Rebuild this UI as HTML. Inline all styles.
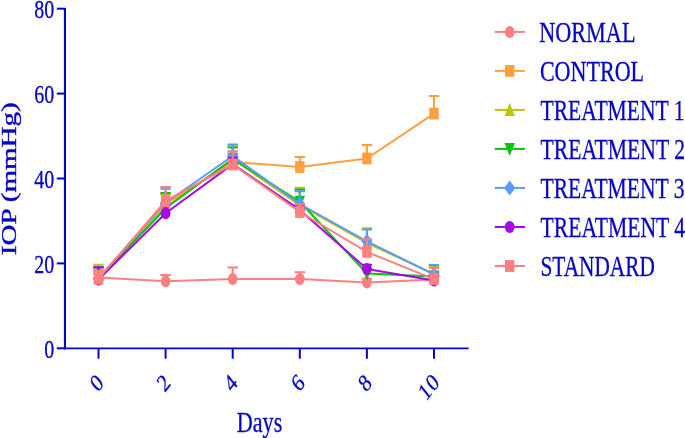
<!DOCTYPE html><html><head><meta charset="utf-8"><style>html,body{margin:0;padding:0;background:#fff}svg text{white-space:pre}</style></head><body><svg width="685" height="438" viewBox="0 0 685 438" style="display:block;will-change:transform">
<rect width="685" height="438" fill="#fff"/>
<g stroke="#ff8080" stroke-width="2" fill="none"><path d="M98.5,277.4V273.2M93.3,273.2H103.7"/><path d="M165.6,281.2V274.9M160.4,274.9H170.8"/><path d="M232.7,279.1V267.4M227.5,267.4H237.9"/><path d="M299.8,279.1V272.3M294.6,272.3H305.0"/><path d="M366.9,282.5V278.7M361.7,278.7H372.1"/><path d="M434.0,279.5V275.3M428.8,275.3H439.2"/><polyline points="98.5,277.4 165.6,281.2 232.7,279.1 299.8,279.1 366.9,282.5 434.0,279.5" stroke-linejoin="round"/></g><ellipse cx="98.5" cy="277.4" rx="4.85" ry="6.0" fill="#ff8080"/><ellipse cx="165.6" cy="281.2" rx="4.85" ry="6.0" fill="#ff8080"/><ellipse cx="232.7" cy="279.1" rx="4.85" ry="6.0" fill="#ff8080"/><ellipse cx="299.8" cy="279.1" rx="4.85" ry="6.0" fill="#ff8080"/><ellipse cx="366.9" cy="282.5" rx="4.85" ry="6.0" fill="#ff8080"/><ellipse cx="434.0" cy="279.5" rx="4.85" ry="6.0" fill="#ff8080"/>
<g stroke="#ffa040" stroke-width="2" fill="none"><path d="M98.5,277.8V269.3M93.3,269.3H103.7"/><path d="M165.6,204.0V193.8M160.4,193.8H170.8"/><path d="M232.7,161.9V153.5M227.5,153.5H237.9"/><path d="M299.8,167.0V156.9M294.6,156.9H305.0"/><path d="M366.9,158.5V145.0M361.7,145.0H372.1"/><path d="M434.0,113.6V96.1M428.8,96.1H439.2"/><polyline points="98.5,277.8 165.6,204.0 232.7,161.9 299.8,167.0 366.9,158.5 434.0,113.6" stroke-linejoin="round"/></g><rect x="93.8" y="271.9" width="9.4" height="11.8" fill="#ffa040"/><rect x="160.9" y="198.1" width="9.4" height="11.8" fill="#ffa040"/><rect x="228.0" y="156.0" width="9.4" height="11.8" fill="#ffa040"/><rect x="295.1" y="161.1" width="9.4" height="11.8" fill="#ffa040"/><rect x="362.2" y="152.6" width="9.4" height="11.8" fill="#ffa040"/><rect x="429.3" y="107.7" width="9.4" height="11.8" fill="#ffa040"/>
<g stroke="#bec40c" stroke-width="2" fill="none"><path d="M98.5,277.4V264.7M93.3,264.7H103.7"/><path d="M165.6,207.4V194.2M160.4,194.2H170.8"/><path d="M232.7,159.0V145.8M227.5,145.8H237.9"/><path d="M299.8,205.2V187.8M294.6,187.8H305.0"/><path d="M366.9,243.0V228.2M361.7,228.2H372.1"/><path d="M434.0,274.0V266.4M428.8,266.4H439.2"/><polyline points="98.5,277.4 165.6,207.4 232.7,159.0 299.8,205.2 366.9,243.0 434.0,274.0" stroke-linejoin="round"/></g><polygon points="98.5,270.3 103.7,283.4 93.3,283.4" fill="#bec40c"/><polygon points="165.6,200.3 170.8,213.4 160.4,213.4" fill="#bec40c"/><polygon points="232.7,151.9 237.9,165.0 227.5,165.0" fill="#bec40c"/><polygon points="299.8,198.1 305.0,211.2 294.6,211.2" fill="#bec40c"/><polygon points="366.9,235.9 372.1,249.0 361.7,249.0" fill="#bec40c"/><polygon points="434.0,266.9 439.2,280.0 428.8,280.0" fill="#bec40c"/>
<g stroke="#08c408" stroke-width="2" fill="none"><path d="M98.5,279.1V267.2M93.3,267.2H103.7"/><path d="M165.6,208.2V192.9M160.4,192.9H170.8"/><path d="M232.7,159.0V147.5M227.5,147.5H237.9"/><path d="M299.8,201.8V189.5M294.6,189.5H305.0"/><path d="M366.9,273.6V269.3M361.7,269.3H372.1"/><path d="M434.0,276.6V272.3M428.8,272.3H439.2"/><polyline points="98.5,279.1 165.6,208.2 232.7,159.0 299.8,201.8 366.9,273.6 434.0,276.6" stroke-linejoin="round"/></g><polygon points="98.5,286.2 103.7,273.1 93.3,273.1" fill="#08c408"/><polygon points="165.6,215.3 170.8,202.2 160.4,202.2" fill="#08c408"/><polygon points="232.7,166.1 237.9,153.0 227.5,153.0" fill="#08c408"/><polygon points="299.8,208.9 305.0,195.8 294.6,195.8" fill="#08c408"/><polygon points="366.9,280.7 372.1,267.6 361.7,267.6" fill="#08c408"/><polygon points="434.0,283.7 439.2,270.6 428.8,270.6" fill="#08c408"/>
<g stroke="#589cfa" stroke-width="2" fill="none"><path d="M98.5,278.3V267.2M93.3,267.2H103.7"/><path d="M165.6,202.7V188.7M160.4,188.7H170.8"/><path d="M232.7,156.0V144.5M227.5,144.5H237.9"/><path d="M299.8,204.0V191.2M294.6,191.2H305.0"/><path d="M366.9,241.3V229.4M361.7,229.4H372.1"/><path d="M434.0,274.4V265.1M428.8,265.1H439.2"/><polyline points="98.5,278.3 165.6,202.7 232.7,156.0 299.8,204.0 366.9,241.3 434.0,274.4" stroke-linejoin="round"/></g><polygon points="98.5,270.8 104.1,278.3 98.5,285.8 92.9,278.3" fill="#589cfa"/><polygon points="165.6,195.2 171.2,202.7 165.6,210.2 160.0,202.7" fill="#589cfa"/><polygon points="232.7,148.5 238.3,156.0 232.7,163.5 227.1,156.0" fill="#589cfa"/><polygon points="299.8,196.5 305.4,204.0 299.8,211.5 294.2,204.0" fill="#589cfa"/><polygon points="366.9,233.8 372.5,241.3 366.9,248.8 361.3,241.3" fill="#589cfa"/><polygon points="434.0,266.9 439.6,274.4 434.0,281.9 428.4,274.4" fill="#589cfa"/>
<g stroke="#a40ae2" stroke-width="2" fill="none"><path d="M98.5,279.5V267.2M93.3,267.2H103.7"/><path d="M165.6,213.3V204.8M160.4,204.8H170.8"/><path d="M232.7,164.1V157.7M227.5,157.7H237.9"/><path d="M299.8,209.9V205.2M294.6,205.2H305.0"/><path d="M366.9,268.9V264.7M361.7,264.7H372.1"/><path d="M434.0,280.4V276.1M428.8,276.1H439.2"/><polyline points="98.5,279.5 165.6,213.3 232.7,164.1 299.8,209.9 366.9,268.9 434.0,280.4" stroke-linejoin="round"/></g><ellipse cx="98.5" cy="279.5" rx="4.85" ry="6.0" fill="#a40ae2"/><ellipse cx="165.6" cy="213.3" rx="4.85" ry="6.0" fill="#a40ae2"/><ellipse cx="232.7" cy="164.1" rx="4.85" ry="6.0" fill="#a40ae2"/><ellipse cx="299.8" cy="209.9" rx="4.85" ry="6.0" fill="#a40ae2"/><ellipse cx="366.9" cy="268.9" rx="4.85" ry="6.0" fill="#a40ae2"/><ellipse cx="434.0" cy="280.4" rx="4.85" ry="6.0" fill="#a40ae2"/>
<g stroke="#ff8080" stroke-width="2" fill="none"><path d="M98.5,278.7V271.0M93.3,271.0H103.7"/><path d="M165.6,201.0V187.0M160.4,187.0H170.8"/><path d="M232.7,164.5V151.3M227.5,151.3H237.9"/><path d="M299.8,212.0V204.4M294.6,204.4H305.0"/><path d="M366.9,251.9V239.2M361.7,239.2H372.1"/><path d="M434.0,279.1V268.1M428.8,268.1H439.2"/><polyline points="98.5,278.7 165.6,201.0 232.7,164.5 299.8,212.0 366.9,251.9 434.0,279.1" stroke-linejoin="round"/></g><rect x="93.8" y="272.8" width="9.4" height="11.8" fill="#ff8080"/><rect x="160.9" y="195.1" width="9.4" height="11.8" fill="#ff8080"/><rect x="228.0" y="158.6" width="9.4" height="11.8" fill="#ff8080"/><rect x="295.1" y="206.1" width="9.4" height="11.8" fill="#ff8080"/><rect x="362.2" y="246.0" width="9.4" height="11.8" fill="#ff8080"/><rect x="429.3" y="273.2" width="9.4" height="11.8" fill="#ff8080"/>
<g stroke="#0606c2" stroke-width="2" fill="none" stroke-linecap="butt">
<path d="M64.95,7.9V349.3" stroke-width="2.1"/>
<path d="M64,348.3H468.6" stroke-width="1.8"/>
<path d="M56.8,348.3H65"/>
<path d="M56.8,263.4H65"/>
<path d="M56.8,178.5H65"/>
<path d="M56.8,93.6H65"/>
<path d="M56.8,8.7H65"/>
<path d="M98.5,348.3V358.7"/>
<path d="M165.6,348.3V358.7"/>
<path d="M232.7,348.3V358.7"/>
<path d="M299.8,348.3V358.7"/>
<path d="M366.9,348.3V358.7"/>
<path d="M434.0,348.3V358.7"/>
</g>
<g fill="#0606c2" stroke="#0606c2" stroke-width="0.3" font-family="'Liberation Serif', serif">
<text x="54.2" y="357.9" font-size="26" text-anchor="end" textLength="10.0" lengthAdjust="spacingAndGlyphs">0</text>
<text x="54.2" y="273.0" font-size="26" text-anchor="end" textLength="20.0" lengthAdjust="spacingAndGlyphs">20</text>
<text x="54.2" y="188.1" font-size="26" text-anchor="end" textLength="20.0" lengthAdjust="spacingAndGlyphs">40</text>
<text x="54.2" y="103.2" font-size="26" text-anchor="end" textLength="20.0" lengthAdjust="spacingAndGlyphs">60</text>
<text x="54.2" y="18.3" font-size="26" text-anchor="end" textLength="20.0" lengthAdjust="spacingAndGlyphs">80</text>
<g transform="translate(104.6,384.4) scale(0.80,1) rotate(-45)"><text x="0" y="0" font-size="24.6" text-anchor="end">0</text></g>
<g transform="translate(171.7,384.4) scale(0.80,1) rotate(-45)"><text x="0" y="0" font-size="24.6" text-anchor="end">2</text></g>
<g transform="translate(238.8,384.4) scale(0.80,1) rotate(-45)"><text x="0" y="0" font-size="24.6" text-anchor="end">4</text></g>
<g transform="translate(305.9,384.4) scale(0.80,1) rotate(-45)"><text x="0" y="0" font-size="24.6" text-anchor="end">6</text></g>
<g transform="translate(373.0,384.4) scale(0.80,1) rotate(-45)"><text x="0" y="0" font-size="24.6" text-anchor="end">8</text></g>
<g transform="translate(440.4,383.7) scale(0.80,1) rotate(-45)"><text x="0.8" y="0" font-size="24.6" text-anchor="end" letter-spacing="0.8">10</text></g>
<text x="236.7" y="431.6" font-size="30" textLength="45.6" lengthAdjust="spacingAndGlyphs">Days</text>
<g transform="translate(15.7,255.2) rotate(-90)"><text x="0" y="0" font-size="21" stroke="#0606c2" stroke-width="0.4" textLength="153" lengthAdjust="spacingAndGlyphs">IOP (mmHg)</text></g>
<text x="539.2" y="41.8" font-size="29.5" textLength="96.3" lengthAdjust="spacingAndGlyphs">NORMAL</text>
<text x="539.9" y="80.8" font-size="29.5" textLength="104.2" lengthAdjust="spacingAndGlyphs">CONTROL</text>
<text x="540.5" y="119.9" font-size="29.5" textLength="144.0" lengthAdjust="spacingAndGlyphs">TREATMENT 1</text>
<text x="540.5" y="158.9" font-size="29.5" textLength="144.5" lengthAdjust="spacingAndGlyphs">TREATMENT 2</text>
<text x="540.5" y="198.0" font-size="29.5" textLength="144.0" lengthAdjust="spacingAndGlyphs">TREATMENT 3</text>
<text x="540.5" y="237.1" font-size="29.5" textLength="144.7" lengthAdjust="spacingAndGlyphs">TREATMENT 4</text>
<text x="540.5" y="276.1" font-size="29.5" textLength="114.3" lengthAdjust="spacingAndGlyphs">STANDARD</text>
</g>
<path d="M494.8,31.9H524.9" stroke="#ff8080" stroke-width="2" fill="none"/>
<ellipse cx="509.7" cy="31.9" rx="4.85" ry="6.0" fill="#ff8080"/>
<path d="M494.8,70.9H524.9" stroke="#ffa040" stroke-width="2" fill="none"/>
<rect x="505.0" y="65.0" width="9.4" height="11.8" fill="#ffa040"/>
<path d="M494.8,109.9H524.9" stroke="#bec40c" stroke-width="2" fill="none"/>
<polygon points="509.7,102.8 514.9,115.9 504.5,115.9" fill="#bec40c"/>
<path d="M494.8,148.9H524.9" stroke="#08c408" stroke-width="2" fill="none"/>
<polygon points="509.7,156.0 514.9,142.9 504.5,142.9" fill="#08c408"/>
<path d="M494.8,187.9H524.9" stroke="#589cfa" stroke-width="2" fill="none"/>
<polygon points="509.7,180.4 515.3,187.9 509.7,195.4 504.1,187.9" fill="#589cfa"/>
<path d="M494.8,227.0H524.9" stroke="#a40ae2" stroke-width="2" fill="none"/>
<ellipse cx="509.7" cy="227.0" rx="4.85" ry="6.0" fill="#a40ae2"/>
<path d="M494.8,266.0H524.9" stroke="#ff8080" stroke-width="2" fill="none"/>
<rect x="505.0" y="260.1" width="9.4" height="11.8" fill="#ff8080"/>
</svg></body></html>
